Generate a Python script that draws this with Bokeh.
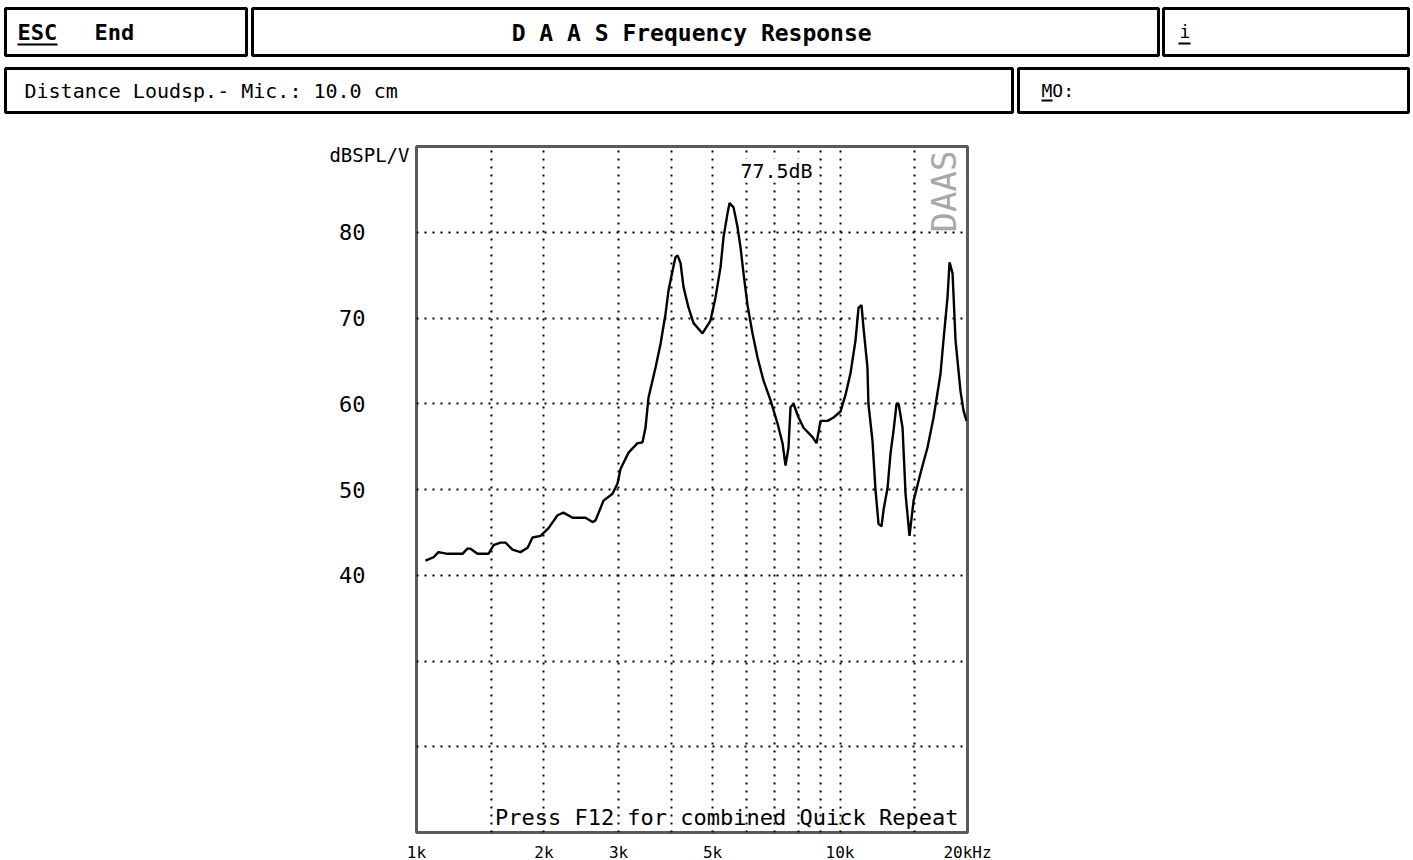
import math
from bokeh.plotting import figure
from bokeh.models import Range1d, FixedTicker, Label, LinearAxis
from bokeh.core.properties import value
from bokeh.embed import file_html
from bokeh.resources import INLINE

# ---------------- data ----------------
FREQ_HZ = [
    1050, 1097, 1127, 1184, 1284, 1319, 1341, 1393, 1479, 1520,
    1579, 1623, 1685, 1760, 1830, 1879, 1963, 2050, 2153, 2223,
    2336, 2506, 2604, 2647, 2764, 2903, 2983, 3032, 3167, 3326,
    3417, 3473, 3530, 3667, 3770, 3873, 3936, 4023, 4089, 4134,
    4202, 4271, 4389, 4510, 4735, 4945, 5082, 5222, 5308, 5425,
    5485, 5605, 5728, 5823, 5918, 6048, 6215, 6386, 6598, 6855,
    7120, 7316, 7436, 7558, 7641, 7767, 7981, 8201, 8611, 8801,
    8995, 9344, 9654, 10030, 10300, 10590, 10880, 11060, 11240, 11360,
    11610, 11670, 11930, 12130, 12330, 12530, 12670, 12950, 13160, 13380,
    13600, 13750, 14050, 14280, 14590, 14920, 15490, 16090, 16630, 17270,
    17550, 17940, 18140, 18440, 18740, 19250, 19570, 19890,
]
SPL_DB = [
    41.7, 42.1, 42.7, 42.5, 42.5, 43.1, 43.1, 42.5, 42.5, 43.5,
    43.8, 43.8, 43.0, 42.7, 43.2, 44.4, 44.6, 45.5, 47.0, 47.3,
    46.7, 46.7, 46.2, 46.4, 48.7, 49.5, 50.7, 52.4, 54.3, 55.4,
    55.5, 57.2, 60.7, 64.2, 67.0, 70.5, 73.2, 75.5, 77.1, 77.3,
    76.4, 73.6, 71.2, 69.4, 68.2, 69.7, 72.4, 75.9, 79.4, 82.2,
    83.4, 82.9, 80.6, 78.2, 75.2, 71.5, 68.2, 65.4, 62.7, 60.4,
    57.7, 55.4, 52.8, 54.9, 59.6, 60.0, 58.4, 57.2, 56.1, 55.4,
    58.0, 58.0, 58.4, 59.1, 61.0, 63.6, 67.4, 71.2, 71.5, 68.9,
    64.2, 60.0, 55.7, 49.9, 46.0, 45.7, 47.6, 50.2, 54.2, 56.9,
    60.0, 60.0, 57.2, 49.5, 44.6, 48.7, 51.9, 54.9, 58.4, 63.5,
    67.4, 72.4, 76.5, 75.2, 67.4, 61.5, 59.2, 58.0,
]
X_TICKS = [1000, 2000, 3000, 5000, 10000, 20000]
X_LABELS = ["1k", "2k", "3k", "5k", "10k", "20kHz"]
Y_TICKS = [40, 50, 60, 70, 80]
GRID_FREQ = [1500, 2000, 3000, 4000, 5000, 6000, 7000, 8000, 9000, 10000, 15000]
GRID_DB = [20, 30, 40, 50, 60, 70, 80]
F_MIN, F_MAX = 1000, 20000
DB_MIN, DB_MAX = 10, 90
MARKER_TEXT = "77.5dB"
MARKER_F, MARKER_DB = 7080, 87.2

Y_UNIT = "dBSPL/V"
Y_UNIT_AT = 89
TITLE = "D A A S   Frequency Response"
ESC_TXT, END_TXT = "ESC", "End"
INFO_TXT = "i"
DIST_TXT = "Distance Loudsp.- Mic.: 10.0 cm"
MO_TXT = "MO:"
FOOT_TXT = "Press F12 for combined Quick Repeat"
LOGO_TXT = "DAAS"

FONT = "DejaVu Sans Mono"
W = 1413
HDR_H = 114

# ---------------- header (boxes) ----------------
hdr = figure(width=W, height=HDR_H, x_range=Range1d(0, W), y_range=Range1d(HDR_H, 0),
             x_axis_type=None, y_axis_type=None, output_backend="svg",
             toolbar_location=None, min_border=0)
hdr.outline_line_color = None
hdr.background_fill_color = "white"
box_l = [5, 252, 1163, 5, 1018]
box_r = [246, 1158, 1408, 1012, 1408]
box_t = [8, 8, 8, 68, 68]
box_b = [55, 55, 55, 112, 112]
hdr.quad(left=box_l, right=box_r, top=box_t, bottom=box_b,
         fill_color="white", line_color="black", line_width=3)

hdr.text(x=[17, 94], y=[32, 32], text=[ESC_TXT, END_TXT], text_font=value(FONT),
         text_font_style="bold", text_font_size="22px", text_baseline="middle",
         text_align="left", text_color="black")
hdr.text(x=[705], y=[32], text=[TITLE], text_font=value(FONT), text_font_style="bold",
         text_font_size="23px", text_baseline="middle", text_align="center", text_color="black")
hdr.text(x=[1179], y=[31], text=[INFO_TXT], text_font=value(FONT), text_font_size="18px",
         text_baseline="middle", text_align="left", text_color="black")
hdr.text(x=[24], y=[90], text=[DIST_TXT], text_font=value(FONT), text_font_size="20px",
         text_baseline="middle", text_align="left", text_color="black")
hdr.text(x=[1041], y=[90], text=[MO_TXT], text_font=value(FONT), text_font_size="18px",
         text_baseline="middle", text_align="left", text_color="black")
# underlines of the hot keys
hdr.segment(x0=[17, 1178, 1041], y0=[44, 43, 100], x1=[57, 1190, 1052], y1=[44, 43, 100],
            line_color="black", line_width=2)

# ---------------- main chart ----------------
p = figure(frame_width=551, frame_height=686, x_axis_type="log",
           x_range=Range1d(F_MIN, F_MAX), y_range=Range1d(DB_MIN, DB_MAX),
           min_border_left=416, min_border_right=446, min_border_top=32, min_border_bottom=28,
           output_backend="svg", toolbar_location=None)
p.background_fill_color = "white"
p.border_fill_color = "white"
p.outline_line_color = "#5a5a5a"
p.outline_line_width = 3

p.xaxis.ticker = FixedTicker(ticks=X_TICKS)
p.xaxis.major_label_overrides = {t: l for t, l in zip(X_TICKS, X_LABELS)}
p.yaxis.ticker = FixedTicker(ticks=Y_TICKS)

# unit caption "dBSPL/V" as a second left axis carrying a single labelled tick
unit_axis = LinearAxis(ticker=FixedTicker(ticks=[Y_UNIT_AT]),
                       major_label_overrides={Y_UNIT_AT: Y_UNIT})
p.add_layout(unit_axis, "left")

for ax in p.axis:
    ax.axis_line_color = None
    ax.major_tick_line_color = None
    ax.minor_tick_line_color = None
    ax.major_tick_out = 0
    ax.major_tick_in = 0
    ax.major_label_text_font = FONT
    ax.major_label_text_color = "black"
p.xaxis.major_label_text_font_size = "16px"
p.xaxis.major_label_standoff = 10
p.yaxis[0].major_label_text_font_size = "22px"
p.yaxis[0].major_label_standoff = 51
unit_axis.major_label_text_font_size = "19px"
unit_axis.major_label_standoff = -73

p.xgrid.ticker = FixedTicker(ticks=GRID_FREQ)
p.ygrid.ticker = FixedTicker(ticks=GRID_DB)
for g in p.grid:
    g.grid_line_color = "black"
    g.grid_line_dash = "2 6"
    g.grid_line_width = 2
    g.grid_line_alpha = 1.0

p.line(FREQ_HZ, SPL_DB, line_color="black", line_width=2.4)

p.add_layout(Label(x=MARKER_F, y=MARKER_DB, text=MARKER_TEXT, text_align="center",
                   text_baseline="middle", text_font=FONT, text_font_size="20px",
                   text_color="black", background_fill_color="white"))
p.add_layout(Label(x=F_MAX, y=DB_MAX, x_offset=-24, y_offset=-45, text=LOGO_TXT,
                   angle=math.pi / 2, text_align="center", text_baseline="middle",
                   text_font=FONT, text_font_size="34px", text_color="#a8a8a8"))
p.add_layout(Label(x=F_MAX, y=DB_MIN, x_offset=-9, y_offset=3, text=FOOT_TXT,
                   text_align="right", text_baseline="bottom", text_font=FONT,
                   text_font_size="22px", text_color="black"))

open("out.html", "w").write(file_html([hdr, p], INLINE))
